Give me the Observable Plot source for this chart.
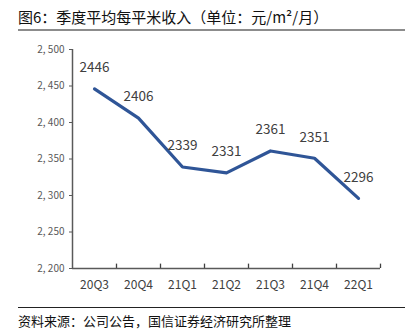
<!DOCTYPE html>
<html><head><meta charset="utf-8">
<script src="https://cdn.jsdelivr.net/npm/d3@7"></script>
<script src="https://cdn.jsdelivr.net/npm/@observablehq/plot@0.6"></script>
<style>
body{margin:0;background:#fff;font-family:"Noto Sans CJK SC","Noto Sans",sans-serif;}
#wrap{position:relative;width:414px;height:336px;overflow:hidden;}
#title{position:absolute;left:18px;top:7px;font-size:15px;color:#111;white-space:nowrap;line-height:20px;}
#tline{position:absolute;left:18px;top:29px;width:387px;height:2px;background:#8c8c8c;}
#chart{position:absolute;left:0;top:40px;}
#bline{position:absolute;left:18px;top:307px;width:387px;height:1px;background:#222;}
#src{position:absolute;left:18px;top:312px;font-size:13px;color:#111;white-space:nowrap;line-height:18px;}
</style></head>
<body><div id="wrap">
<div id="title">图6：季度平均每平米收入（单位：元/m²/月）</div>
<div id="tline"></div>
<div id="chart"></div>
<div id="bline"></div>
<div id="src">资料来源：公司公告，国信证券经济研究所整理</div>
</div>
<script>
const quarters = ["20Q3","20Q4","21Q1","21Q2","21Q3","21Q4","22Q1"];
const revenue = [2446, 2406, 2339, 2331, 2361, 2351, 2296];
const yTicks = [2200, 2250, 2300, 2350, 2400, 2450, 2500];

const data = quarters.map((q, i) => ({i, q, v: revenue[i]}));
const boundaries = quarters.map((q, i) => i + 0.5);
const axisColor = "#595959";
const yMin = yTicks[0];

const plot = Plot.plot({
  width: 414,
  height: 260,
  marginTop: 9,
  marginBottom: 32,
  marginLeft: 72,
  marginRight: 34,
  style: {fontFamily: '"Noto Sans CJK SC","Noto Sans",sans-serif', background: "#fff"},
  x: {type: "linear", domain: [-0.5, quarters.length - 0.5], label: null},
  y: {domain: [2200, 2500], label: null},
  marks: [
    Plot.axisY(yTicks, {tickSize: 3, tickPadding: 5, stroke: axisColor, color: "#595959", fontSize: 10, label: null,
      tickFormat: d => d3.format(",")(d).replace(",", ", ")}),
    Plot.axisX(data.map(d => d.i), {tickSize: 0, tickPadding: 12, fontSize: 12, color: "#404040",
      tickFormat: i => quarters[i], label: null}),
    Plot.ruleX(boundaries, {x: d => d, y1: () => yMin, y2: () => yMin + 6, stroke: "#404040", strokeWidth: 1.3}),
    Plot.ruleY([2200], {stroke: axisColor, strokeWidth: 1.5}),
    Plot.ruleX([-0.5], {stroke: axisColor, strokeWidth: 1.5}),
    Plot.line(data, {x: "i", y: "v", stroke: "#2F5597", strokeWidth: 3.2}),
    Plot.text(data, {x: "i", y: "v", text: d => String(d.v), dy: -21, fontSize: 13.5, fill: "#404040"})
  ]
});
document.getElementById("chart").appendChild(plot);
</script>
</body></html>
